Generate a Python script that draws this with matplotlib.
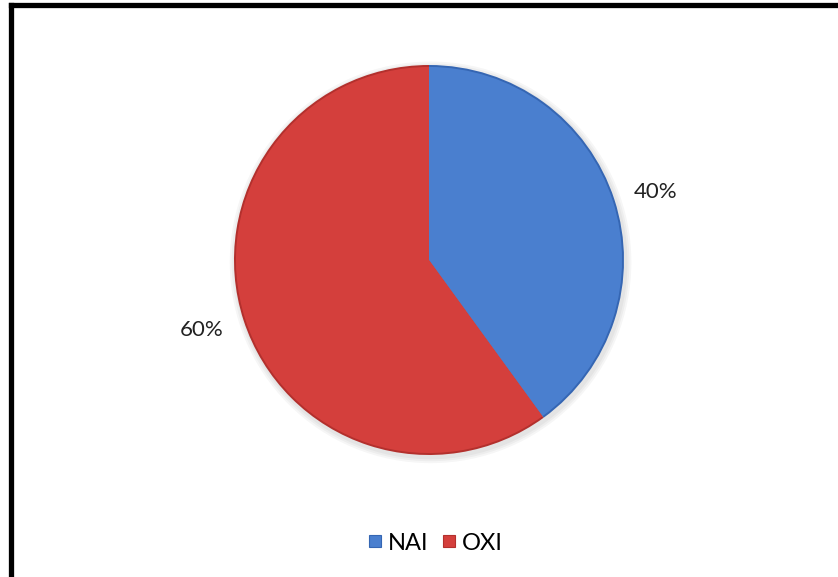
import matplotlib
matplotlib.use("Agg")
import matplotlib.pyplot as plt
from matplotlib.lines import Line2D
from matplotlib.patches import Circle

categories = ["NAI", "OXI"]
shares = [40, 60]
labels = ["40%", "60%"]
colors = ["#4a7fcf", "#d43f3c"]
edge_colors = ["#3566b3", "#b3302d"]

plt.rcParams["font.family"] = ["Lato", "DejaVu Sans"]

W, H = 838, 577
fig = plt.figure(figsize=(W / 100, H / 100), dpi=100)
fig.patch.set_facecolor("white")

# chart frame (only the top and left sides fall inside the canvas)
fig.add_artist(Line2D([10.5 / W, 10.5 / W], [0, 1 - 4.5 / H], transform=fig.transFigure,
                      color="black", lw=3.8, solid_capstyle="projecting"))
fig.add_artist(Line2D([10.5 / W, 1.0], [1 - 4.5 / H, 1 - 4.5 / H], transform=fig.transFigure,
                      color="black", lw=3.8, solid_capstyle="projecting"))

cx, cy, r = 429, 260, 195
scale = 1.08
ax = fig.add_axes([(cx - r * scale) / W, (H - cy - r * scale) / H,
                   2 * r * scale / W, 2 * r * scale / H])
ax.axis("off")

# soft drop shadow
for i in range(3):
    ax.add_patch(Circle((0.008, -0.012), 1.0 + 0.01 * (i + 1), color="black",
                        alpha=0.035, lw=0, zorder=0))

# outer rim in a darker tone, main face slightly inset
ax.pie(shares, colors=edge_colors, startangle=90, counterclock=False, radius=1.0,
       wedgeprops=dict(linewidth=0), frame=False)
ax.pie(shares, colors=colors, startangle=90, counterclock=False, radius=0.99,
       wedgeprops=dict(linewidth=0), frame=False)
ax.set_xlim(-scale, scale)
ax.set_ylim(-scale, scale)
ax.set_aspect("equal")

# percentage labels
fig.text(656 / W, 1 - 192 / H, labels[0], ha="center", va="center", fontsize=16, color="#222222")
fig.text(202 / W, 1 - 330 / H, labels[1], ha="center", va="center", fontsize=16, color="#222222")

handles = [Line2D([], [], marker="s", linestyle="none", markersize=9,
                  markerfacecolor=c, markeredgecolor=e, markeredgewidth=0.8)
           for c, e in zip(colors, edge_colors)]
fig.legend(handles, categories, loc="center", bbox_to_anchor=(434 / W, 1 - 543 / H),
           ncol=2, frameon=False, fontsize=17, handletextpad=0.15, columnspacing=0.45,
           handlelength=0.8)

fig.savefig("out.png", dpi=100, facecolor="white")
